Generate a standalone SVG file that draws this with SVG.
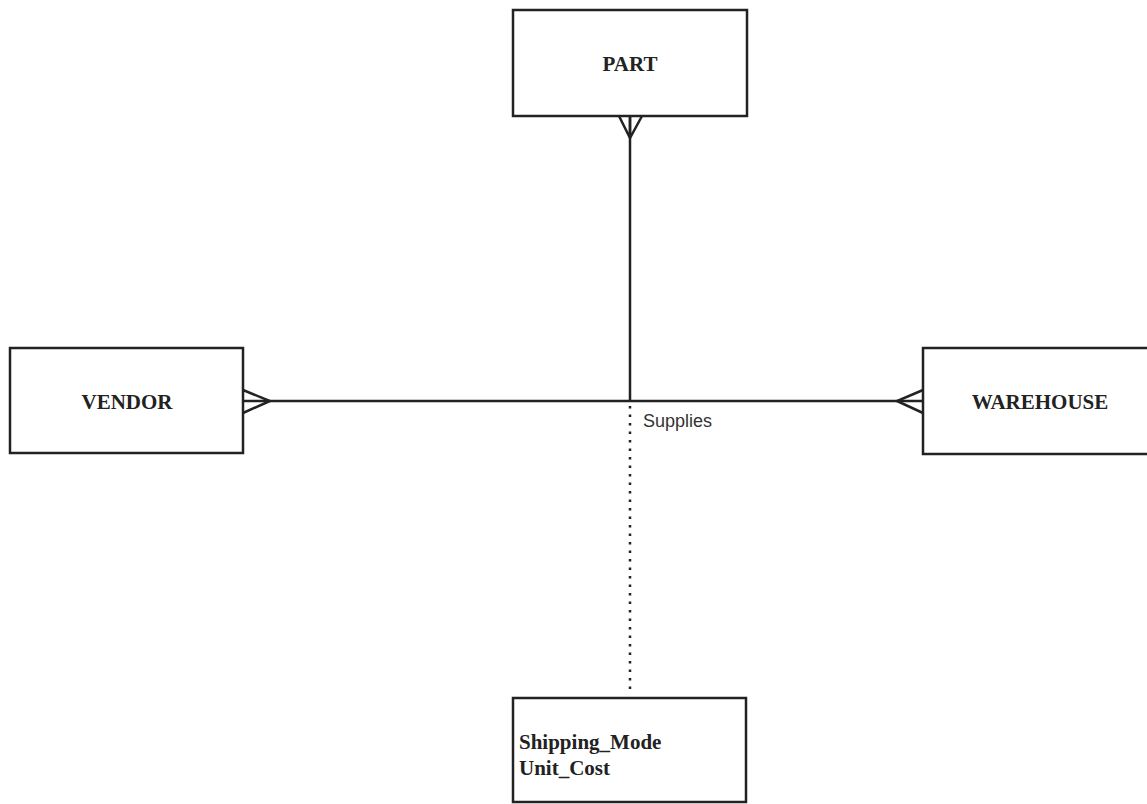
<svg xmlns="http://www.w3.org/2000/svg" width="1147" height="804" viewBox="0 0 1147 804">
<style>
.box{fill:#fff;stroke:#222;stroke-width:2.5}
.ent{font-family:"Liberation Serif",serif;font-weight:bold;font-size:21px;fill:#222;text-anchor:middle}
.attr{font-family:"Liberation Serif",serif;font-weight:bold;font-size:21px;fill:#222}
.lbl{font-family:"Liberation Sans",sans-serif;font-size:18px;fill:#333}
.ln{stroke:#222;stroke-width:2.5;fill:none}
.dot{stroke:#222;stroke-width:2.5;fill:none;stroke-dasharray:2.5 6}
</style>
<rect width="1147" height="804" fill="#fff"/>
<g id="connectors">
<line class="ln" x1="630" y1="116" x2="630" y2="401"/>
<line class="ln" x1="243" y1="401" x2="923" y2="401"/>
<line class="dot" x1="630" y1="406" x2="630" y2="694"/>
<path class="ln" d="M619,116 L630,138 L642,116 M630,116 L630,138"/>
<path class="ln" d="M243,390 L270,401 L243,413"/>
<path class="ln" d="M923,390 L897,401 L923,413"/>
<text class="lbl" x="643" y="427">Supplies</text>
</g>
<g id="part"><rect class="box" x="513" y="10" width="234" height="106"/><text class="ent" x="630" y="71">PART</text></g>
<g id="vendor"><rect class="box" x="10" y="348" width="233" height="105"/><text class="ent" x="127" y="409">VENDOR</text></g>
<g id="warehouse"><rect class="box" x="923" y="348" width="230" height="106"/><text class="ent" x="1040" y="409">WAREHOUSE</text></g>
<g id="attributes"><rect class="box" x="513" y="698" width="233" height="104"/><text class="attr" x="519" y="749">Shipping_Mode</text><text class="attr" x="519" y="775">Unit_Cost</text></g>
</svg>
